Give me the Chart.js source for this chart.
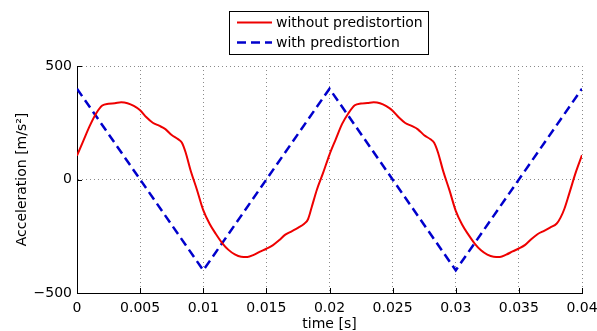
<!DOCTYPE html>
<html>
<head>
<meta charset="utf-8">
<script src="https://cdn.jsdelivr.net/npm/chart.js@4.4.0/dist/chart.umd.min.js"></script>
<style>
html, body { margin: 0; padding: 0; background: #fff; }
#area { width: 597px; height: 331px; }
</style>
</head>
<body>
<div id="area"><canvas id="grafico" width="597" height="331"></canvas></div>
<script>
// tempo em ms (eixo mostrado em segundos)
const tempoSemPre = [
    0, 0.5, 1, 1.5, 2, 2.5, 3, 3.5, 4, 4.5, 5, 5.5, 6, 6.5, 7, 7.5, 8, 8.3, 8.6, 9, 9.5,
    10, 10.5, 11, 11.5, 12, 12.5, 13, 13.5, 14, 14.5, 15, 15.5, 16, 16.5, 17, 17.5, 18, 18.3, 18.6, 19, 19.5,
    20, 20.5, 21, 21.5, 22, 22.5, 23, 23.5, 24, 24.5, 25, 25.5, 26, 26.5, 27, 27.5, 28, 28.3, 28.6, 29, 29.5,
    30, 30.5, 31, 31.5, 32, 32.5, 33, 33.5, 34, 34.5, 35, 35.5, 36, 36.5, 37, 37.5, 38, 38.3, 38.6, 39, 39.5, 40
];
const aceleracaoSemPre = [
    105, 170, 235, 290, 326, 334, 336, 340, 336, 324, 305, 274, 250, 237, 222, 196, 178, 163, 120, 40, -45,
    -135, -195, -240, -280, -310, -330, -340, -341, -332, -318, -305, -290, -268, -243, -228, -213, -195, -175, -120, -45, 30,
    110, 178, 245, 292, 327, 335, 337, 340, 336, 323, 303, 273, 249, 236, 221, 195, 177, 161, 118, 38, -47,
    -138, -198, -243, -282, -312, -331, -340, -341, -331, -317, -304, -288, -262, -240, -226, -211, -194, -168, -130, -60, 30, 107
];

const tempoComPre = [0, 10, 20, 30, 40];
const aceleracaoComPre = [400, -400, 400, -400, 400];

const xTicks = [0, 5, 10, 15, 20, 25, 30, 35, 40];
const xTickLabels = ["0", "0.005", "0.01", "0.015", "0.02", "0.025", "0.03", "0.035", "0.04"];
const yTicks = [-500, 0, 500];
const yTickLabels = ["\u2212500", "0", "500"];

const nomes = ["without predistortion", "with predistortion"];

function pontos(xs, ys) {
    return xs.map((x, i) => ({ x: x, y: ys[i] }));
}

// marcas de escala para dentro, estilo MATLAB
const marcasInternas = {
    id: "marcasInternas",
    afterDatasetsDraw(chart) {
        const { ctx, chartArea, scales } = chart;
        ctx.save();
        ctx.strokeStyle = "#000";
        ctx.lineWidth = 1;
        ctx.beginPath();
        xTicks.forEach(v => {
            const x = Math.round(scales.x.getPixelForValue(v)) + 0.5;
            ctx.moveTo(x, chartArea.bottom);
            ctx.lineTo(x, chartArea.bottom - 5);
        });
        yTicks.forEach(v => {
            const y = Math.round(scales.y.getPixelForValue(v)) + 0.5;
            ctx.moveTo(chartArea.left, y);
            ctx.lineTo(chartArea.left + 5, y);
        });
        ctx.stroke();
        ctx.restore();
    }
};

// legenda em caixa acima do gráfico
const legenda = {
    id: "legenda",
    afterDraw(chart) {
        const ctx = chart.ctx;
        const x0 = 229.5, y0 = 11.5, w = 199, h = 43;
        ctx.save();
        ctx.fillStyle = "#fff";
        ctx.fillRect(x0, y0, w, h);
        ctx.strokeStyle = "#000";
        ctx.lineWidth = 1;
        ctx.strokeRect(x0, y0, w, h);
        chart.data.datasets.forEach((ds, i) => {
            const y = 22.5 + i * 20;
            ctx.strokeStyle = ds.borderColor;
            ctx.lineWidth = ds.borderWidth;
            ctx.setLineDash(ds.borderDash || []);
            ctx.beginPath();
            ctx.moveTo(237, y);
            ctx.lineTo(272, y);
            ctx.stroke();
            ctx.setLineDash([]);
            ctx.fillStyle = "#000";
            ctx.font = '14px "DejaVu Sans"';
            ctx.textBaseline = "middle";
            ctx.fillText(ds.label, 276, y + 1);
        });
        ctx.restore();
    }
};

Chart.defaults.font.family = '"DejaVu Sans", sans-serif';
Chart.defaults.font.size = 14;
Chart.defaults.color = "#000";

const ctx = document.getElementById("grafico").getContext("2d");

const chart = new Chart(ctx, {
    type: "line",
    data: {
        datasets: [
            {
                label: nomes[0],
                data: pontos(tempoSemPre, aceleracaoSemPre),
                borderColor: "#ee0000",
                borderWidth: 2,
                pointRadius: 0,
                cubicInterpolationMode: "monotone",
                fill: false
            },
            {
                label: nomes[1],
                data: pontos(tempoComPre, aceleracaoComPre),
                borderColor: "#0000cc",
                borderWidth: 2.5,
                borderDash: [9, 5],
                pointRadius: 0,
                tension: 0,
                fill: false
            }
        ]
    },
    options: {
        responsive: false,
        animation: false,
        devicePixelRatio: 1,
        layout: { padding: { top: 66, right: 15, left: 0, bottom: 0 } },
        plugins: {
            legend: { display: false },
            tooltip: { enabled: false }
        },
        scales: {
            x: {
                type: "linear",
                min: 0,
                max: 40,
                afterBuildTicks: s => { s.ticks = xTicks.map(v => ({ value: v })); },
                afterFit: s => { s.height = 38; s.paddingLeft = 0; s.paddingRight = 0; },
                ticks: {
                    padding: 7,
                    maxRotation: 0,
                    autoSkip: false,
                    callback: (v, i) => xTickLabels[i]
                },
                grid: { color: "#8a8a8a", lineWidth: 1, drawTicks: false },
                border: { display: true, color: "#000", width: 1, dash: [1, 3] },
                title: {
                    display: true,
                    text: "time [s]",
                    font: { size: 14, lineHeight: 1 },
                    padding: { top: 0, bottom: 0 }
                }
            },
            y: {
                min: -500,
                max: 500,
                afterBuildTicks: s => { s.ticks = yTicks.map(v => ({ value: v })); },
                afterFit: s => { s.width = 77; s.paddingTop = 0; s.paddingBottom = 0; },
                ticks: {
                    padding: 5,
                    callback: (v, i) => yTickLabels[i]
                },
                grid: { color: "#8a8a8a", lineWidth: 1, drawTicks: false },
                border: { display: true, color: "#000", width: 1, dash: [1, 3] },
                title: {
                    display: true,
                    text: "Acceleration [m/s\u00b2]",
                    font: { size: 14, lineHeight: 1 },
                    padding: { top: 15, bottom: 0 }
                }
            }
        }
    },
    plugins: [marcasInternas, legenda]
});
</script>
</body>
</html>
